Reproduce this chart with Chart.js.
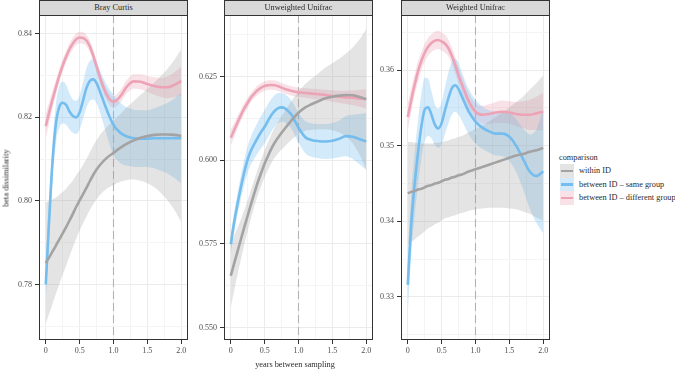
<!DOCTYPE html>
<html>
<head>
<meta charset="utf-8">
<script src="https://cdn.jsdelivr.net/npm/chart.js@4.4.1/dist/chart.umd.min.js"></script>
<style>
  html, body { margin: 0; padding: 0; background: #fff; }
  #fig { position: relative; width: 675px; height: 370px; overflow: hidden; font-family: "Liberation Serif", "DejaVu Serif", serif; color: #2b2b2b; }
  #fig canvas { position: absolute; top: 0; }
  .strip { position: absolute; top: 0; height: 16px; box-sizing: border-box; background: #d9d9d9; border: 1px solid #333; font-size: 8.3px; line-height: 14px; text-align: center; color: #2b2b2b; white-space: nowrap; }
  .ytitle { position: absolute; left: 6px; top: 178px; transform: translate(-50%, -50%) rotate(-90deg); font-size: 8.3px; white-space: nowrap; }
  .xtitle { position: absolute; left: 295px; top: 364px; transform: translate(-50%, -50%); font-size: 8.3px; white-space: nowrap; }
  #legend { position: absolute; left: 559px; top: 151px; font-size: 8.3px; }
  .lg-title { height: 13px; line-height: 13px; }
  .lg-row { position: relative; height: 13.6px; line-height: 13.6px; padding-left: 20px; white-space: nowrap; }
  .lg-key { position: absolute; left: 1px; top: 0; width: 14px; height: 13.6px; }
  .lg-key i { position: absolute; left: 1px; right: 1px; top: 5.5px; height: 2.6px; }
</style>
</head>
<body>
<div id="fig">
  <canvas id="p0" width="190" height="370" style="left:0px"></canvas>
  <canvas id="p1" width="183" height="370" style="left:192px"></canvas>
  <canvas id="p2" width="175" height="370" style="left:377px"></canvas>
  <div class="ytitle">beta dissimilarity</div>
  <div class="xtitle">years between sampling</div>
  <div id="legend"></div>
</div>
<script>
// years between sampling (shared x grid of the smoothed curves)
const X = [0, 0.05, 0.1, 0.15, 0.2, 0.25, 0.3, 0.35, 0.4, 0.45, 0.5, 0.55, 0.6, 0.65, 0.7, 0.75, 0.8,
           0.9, 1.0, 1.1, 1.2, 1.3, 1.4, 1.5, 1.6, 1.7, 1.8, 1.9, 2.0];

const SERIES_NAMES = ['within ID', 'between ID \u2013 same group', 'between ID \u2013 different group'];
const PANEL_TITLES = ['Bray Curtis', 'Unweighted Unifrac', 'Weighted Unifrac'];

const X_TICKS  = [0, 0.5, 1, 1.5, 2];
const X_LABELS = ['0', '0.5', '1.0', '1.5', '2.0'];
const VLINE_X  = 1;

// Bray Curtis
const BRAY_WITHIN    = [0.7851,0.7865,0.7879,0.7893,0.7908,0.7922,0.7937,0.7953,0.7969,0.7986,0.8001,0.8016,0.8031,0.8047,0.8062,0.8075,0.8086,
                        0.8103,0.8115,0.8127,0.8137,0.8145,0.8151,0.8155,0.8158,0.8159,0.8159,0.8158,0.8156];
const BRAY_WITHIN_CI = [0.0145,0.0135,0.0125,0.0115,0.0107,0.0099,0.0092,0.0086,0.0080,0.0076,0.0072,0.0070,0.0069,0.0069,0.0070,0.0071,0.0072,
                        0.0074,0.0077,0.0081,0.0087,0.0094,0.0103,0.0113,0.0125,0.0140,0.0158,0.0180,0.0207];
const BRAY_SAME      = [0.7800,0.7955,0.8095,0.8185,0.8225,0.8235,0.8230,0.8214,0.8203,0.8200,0.8212,0.8240,0.8270,0.8287,0.8291,0.8282,0.8262,
                        0.8218,0.8182,0.8163,0.8154,0.8150,0.8149,0.8149,0.8150,0.8150,0.8150,0.8150,0.8150];
const BRAY_SAME_CI   = [0.0045,0.0045,0.0045,0.0047,0.0050,0.0050,0.0048,0.0043,0.0040,0.0040,0.0041,0.0044,0.0047,0.0048,0.0048,0.0048,0.0050,
                        0.0060,0.0072,0.0072,0.0070,0.0068,0.0068,0.0068,0.0072,0.0078,0.0085,0.0095,0.0108];
const BRAY_DIFF      = [0.8179,0.8212,0.8243,0.8272,0.8300,0.8324,0.8345,0.8363,0.8377,0.8387,0.8391,0.8390,0.8384,0.8370,0.8348,0.8322,0.8295,
                        0.8254,0.8237,0.8250,0.8274,0.8286,0.8285,0.8280,0.8275,0.8272,0.8272,0.8278,0.8287];
const BRAY_DIFF_CI   = [0.0030,0.0025,0.0021,0.0018,0.0016,0.0015,0.0014,0.0014,0.0014,0.0014,0.0014,0.0014,0.0014,0.0014,0.0014,0.0014,0.0014,
                        0.0014,0.0014,0.0015,0.0016,0.0017,0.0018,0.0019,0.0021,0.0023,0.0026,0.0030,0.0035];

// Unweighted Unifrac
const UNW_WITHIN    = [0.5655,0.5692,0.5728,0.5764,0.5800,0.5835,0.5870,0.5903,0.5935,0.5963,0.5990,0.6013,0.6035,0.6053,0.6068,0.6082,0.6095,
                       0.6120,0.6142,0.6158,0.6168,0.6177,0.6185,0.6190,0.6193,0.6195,0.6194,0.6189,0.6182];
const UNW_WITHIN_CI = [0.0095,0.0082,0.0070,0.0060,0.0052,0.0046,0.0042,0.0040,0.0039,0.0039,0.0040,0.0041,0.0043,0.0045,0.0047,0.0050,0.0053,
                       0.0058,0.0064,0.0070,0.0077,0.0084,0.0092,0.0100,0.0110,0.0124,0.0143,0.0172,0.0210];
const UNW_SAME      = [0.5749,0.5815,0.5870,0.5920,0.5965,0.6003,0.6030,0.6050,0.6068,0.6085,0.6100,0.6118,0.6135,0.6148,0.6156,0.6158,0.6155,
                       0.6135,0.6097,0.6069,0.6060,0.6057,0.6056,0.6058,0.6064,0.6072,0.6070,0.6063,0.6056];
const UNW_SAME_CI   = [0.0030,0.0030,0.0032,0.0035,0.0038,0.0040,0.0042,0.0044,0.0046,0.0048,0.0050,0.0050,0.0049,0.0047,0.0045,0.0043,0.0042,
                       0.0042,0.0045,0.0048,0.0050,0.0051,0.0052,0.0053,0.0055,0.0060,0.0066,0.0075,0.0085];
const UNW_DIFF      = [0.6067,0.6090,0.6113,0.6135,0.6155,0.6172,0.6188,0.6200,0.6210,0.6217,0.6222,0.6224,0.6225,0.6224,0.6221,0.6217,0.6213,
                       0.6207,0.6203,0.6201,0.6199,0.6197,0.6195,0.6192,0.6190,0.6188,0.6187,0.6185,0.6183];
const UNW_DIFF_CI   = [0.0024,0.0021,0.0019,0.0017,0.0016,0.0015,0.0014,0.0014,0.0014,0.0014,0.0014,0.0014,0.0014,0.0014,0.0014,0.0014,0.0014,
                       0.0014,0.0014,0.0014,0.0015,0.0015,0.0016,0.0017,0.0018,0.0020,0.0022,0.0025,0.0029];

// Weighted Unifrac
const W_WITHIN    = [0.3437,0.3439,0.3440,0.3442,0.3443,0.3445,0.3447,0.3448,0.3450,0.3451,0.3453,0.3455,0.3456,0.3458,0.3459,0.3461,0.3462,
                     0.3466,0.3469,0.3472,0.3475,0.3478,0.3481,0.3484,0.3487,0.3489,0.3492,0.3494,0.3497];
const W_WITHIN_CI = [0.0068,0.0066,0.0064,0.0062,0.0060,0.0058,0.0056,0.0055,0.0054,0.0053,0.0052,0.0051,0.0051,0.0051,0.0051,0.0051,0.0051,
                     0.0052,0.0053,0.0055,0.0057,0.0060,0.0063,0.0067,0.0071,0.0076,0.0082,0.0089,0.0096];
const W_SAME      = [0.3316,0.3395,0.3448,0.3490,0.3525,0.3548,0.3551,0.3541,0.3528,0.3523,0.3530,0.3547,0.3563,0.3576,0.3580,0.3575,0.3565,
                     0.3545,0.3532,0.3524,0.3519,0.3516,0.3516,0.3512,0.3500,0.3483,0.3466,0.3460,0.3466];
const W_SAME_CI   = [0.0040,0.0040,0.0042,0.0043,0.0043,0.0042,0.0038,0.0031,0.0027,0.0026,0.0028,0.0031,0.0034,0.0035,0.0035,0.0034,0.0032,
                     0.0030,0.0029,0.0028,0.0028,0.0029,0.0030,0.0032,0.0035,0.0040,0.0049,0.0062,0.0082];
const W_DIFF      = [0.3538,0.3560,0.3580,0.3598,0.3612,0.3623,0.3631,0.3636,0.3639,0.3640,0.3638,0.3635,0.3629,0.3619,0.3607,0.3593,0.3581,
                     0.3559,0.3545,0.3541,0.3542,0.3544,0.3545,0.3544,0.3542,0.3541,0.3541,0.3543,0.3545];
const W_DIFF_CI   = [0.0018,0.0016,0.0014,0.0013,0.0012,0.0012,0.0012,0.0012,0.0012,0.0012,0.0012,0.0012,0.0011,0.0011,0.0011,0.0011,0.0011,
                     0.0011,0.0011,0.0012,0.0013,0.0014,0.0015,0.0015,0.0016,0.0018,0.0020,0.0022,0.0025];

// y axes
const BRAY_Y_TICKS = [0.78, 0.80, 0.82, 0.84];
const BRAY_Y_LABELS = ['0.78', '0.80', '0.82', '0.84'];
const UNW_Y_TICKS = [0.550, 0.575, 0.600, 0.625];
const UNW_Y_LABELS = ['0.550', '0.575', '0.600', '0.625'];
const W_Y_TICKS = [0.33, 0.34, 0.35, 0.36];
const W_Y_LABELS = ['0.33', '0.34', '0.35', '0.36'];
const BRAY_Y_RANGE = [0.7667, 0.8445];
const UNW_Y_RANGE = [0.5463, 0.6434];
const W_Y_RANGE = [0.3243, 0.3673];

const LINE_COLORS = ['#a3a3a3', '#74bdee', '#eda3b6'];
const FILL_COLORS = ['rgba(150,150,150,0.26)', 'rgba(116,189,238,0.32)', 'rgba(237,163,182,0.32)'];

const PANELS = [
  { canvas: 'p0', yWidth: 39, range: BRAY_Y_RANGE, ticks: BRAY_Y_TICKS, labels: BRAY_Y_LABELS,
    mids: [BRAY_WITHIN, BRAY_SAME, BRAY_DIFF], cis: [BRAY_WITHIN_CI, BRAY_SAME_CI, BRAY_DIFF_CI] },
  { canvas: 'p1', yWidth: 32, range: UNW_Y_RANGE, ticks: UNW_Y_TICKS, labels: UNW_Y_LABELS,
    mids: [UNW_WITHIN, UNW_SAME, UNW_DIFF], cis: [UNW_WITHIN_CI, UNW_SAME_CI, UNW_DIFF_CI] },
  { canvas: 'p2', yWidth: 24, range: W_Y_RANGE, ticks: W_Y_TICKS, labels: W_Y_LABELS,
    mids: [W_WITHIN, W_SAME, W_DIFF], cis: [W_WITHIN_CI, W_SAME_CI, W_DIFF_CI] }
];

const FONT = { family: '"Liberation Serif", "DejaVu Serif", serif', size: 8 };

// majors + the half-step minors in between (ggplot style grid)
function withMinors(majors, lo, hi) {
  const step = majors[1] - majors[0];
  const out = [];
  for (let v = majors[0] - step / 2; v <= majors[majors.length - 1] + step / 2 + 1e-9; v += step / 2) {
    if (v >= lo - 1e-9 && v <= hi + 1e-9) out.push(+v.toFixed(6));
  }
  return out;
}
const isMajor = (majors, v) => majors.some(m => Math.abs(m - v) < 1e-7);
const labelOf = (majors, labels, v) => {
  const i = majors.findIndex(m => Math.abs(m - v) < 1e-7);
  return i < 0 ? '' : labels[i];
};

const panelFrame = {
  id: 'panelFrame',
  beforeDatasetsDraw(chart) {
    const { ctx, chartArea: a, scales } = chart;
    const px = scales.x.getPixelForValue(VLINE_X);
    ctx.save();
    ctx.strokeStyle = '#b3b3b3';
    ctx.lineWidth = 1.1;
    ctx.setLineDash([8, 4]);
    ctx.beginPath();
    ctx.moveTo(px, a.top);
    ctx.lineTo(px, a.bottom);
    ctx.stroke();
    ctx.restore();
  },
  afterDraw(chart) {
    const { ctx, chartArea: a } = chart;
    ctx.save();
    ctx.strokeStyle = '#333';
    ctx.lineWidth = 1;
    ctx.strokeRect(a.left + 0.5, a.top + 0.5, a.right - a.left - 1, a.bottom - a.top - 1);
    ctx.restore();
  }
};

function buildDatasets(p) {
  const sets = [];
  p.mids.forEach((mid, k) => {
    const ci = p.cis[k];
    const common = { pointRadius: 0, pointHitRadius: 0, cubicInterpolationMode: 'monotone' };
    sets.push({ ...common, data: X.map((x, i) => ({ x, y: mid[i] - ci[i] })),
      borderWidth: 0, borderColor: 'rgba(0,0,0,0)', fill: false, order: 4 + k });
    sets.push({ ...common, data: X.map((x, i) => ({ x, y: mid[i] + ci[i] })),
      borderWidth: 0, borderColor: 'rgba(0,0,0,0)', backgroundColor: FILL_COLORS[k], fill: '-1', order: 4 + k });
    sets.push({ ...common, data: X.map((x, i) => ({ x, y: mid[i] })),
      borderColor: LINE_COLORS[k], borderWidth: 2.6, fill: false, order: 1 + k });
  });
  return sets;
}

const xAll = withMinors(X_TICKS, -0.1, 2.1);

PANELS.forEach((p, idx) => {
  const yAll = withMinors(p.ticks, p.range[0], p.range[1]);
  const chart = new Chart(document.getElementById(p.canvas), {
    type: 'line',
    data: { datasets: buildDatasets(p) },
    options: {
      responsive: false, animation: false, devicePixelRatio: 1, events: [],
      layout: { padding: { top: 15, right: 2, left: 0, bottom: 0 } },
      plugins: { legend: { display: false }, tooltip: { enabled: false } },
      scales: {
        x: {
          type: 'linear', min: -0.1, max: 2.1,
          afterBuildTicks: s => { s.ticks = xAll.map(v => ({ value: v })); },
          afterFit: s => { s.height = 30; s.paddingLeft = 0; s.paddingRight = 0; },
          border: { display: false },
          grid: {
            color: c => isMajor(X_TICKS, c.tick.value) ? '#ebebeb' : '#f4f4f4',
            lineWidth: 1,
            tickLength: 4,
            tickColor: c => isMajor(X_TICKS, c.tick.value) ? '#333' : 'rgba(0,0,0,0)'
          },
          ticks: {
            autoSkip: false, maxRotation: 0, padding: 2, color: '#4d4d4d', font: FONT,
            callback: v => labelOf(X_TICKS, X_LABELS, v)
          }
        },
        y: {
          type: 'linear', position: 'left', min: p.range[0], max: p.range[1],
          afterBuildTicks: s => { s.ticks = yAll.map(v => ({ value: v })); },
          afterFit: s => { s.width = p.yWidth; s.paddingTop = 0; s.paddingBottom = 0; },
          border: { display: false },
          grid: {
            color: c => isMajor(p.ticks, c.tick.value) ? '#ebebeb' : '#f4f4f4',
            lineWidth: 1,
            tickLength: 4,
            tickColor: c => isMajor(p.ticks, c.tick.value) ? '#333' : 'rgba(0,0,0,0)'
          },
          ticks: {
            autoSkip: false, padding: 3, color: '#4d4d4d', font: FONT,
            callback: v => labelOf(p.ticks, p.labels, v)
          }
        }
      }
    },
    plugins: [panelFrame]
  });

  // facet strip aligned to the plotting area
  const cv = document.getElementById(p.canvas);
  const a = chart.chartArea;
  const strip = document.createElement('div');
  strip.className = 'strip';
  strip.textContent = PANEL_TITLES[idx];
  strip.style.left = (parseFloat(cv.style.left) + a.left) + 'px';
  strip.style.width = (a.right - a.left) + 'px';
  document.getElementById('fig').appendChild(strip);
});

// legend
const legend = document.getElementById('legend');
legend.innerHTML = '<div class="lg-title">comparison</div>' + SERIES_NAMES.map((name, k) =>
  '<div class="lg-row"><span class="lg-key" style="background:' + FILL_COLORS[k] + '"><i style="background:' +
  LINE_COLORS[k] + '"></i></span>' + name + '</div>').join('');
</script>
</body>
</html>
